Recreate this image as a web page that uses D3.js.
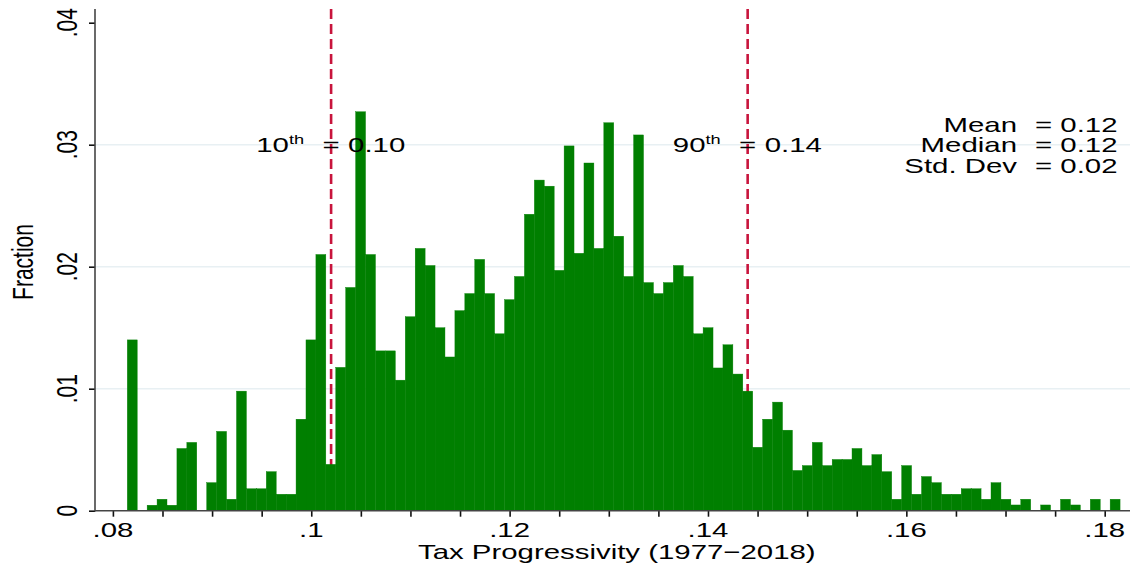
<!DOCTYPE html>
<html><head><meta charset="utf-8">
<script src="https://cdn.jsdelivr.net/npm/d3@7/dist/d3.min.js"></script>
<style>html,body{margin:0;padding:0;background:#fff}svg{display:block}text{font-family:"Liberation Sans",Arial,Helvetica,sans-serif;fill:#000}</style>
</head><body><svg id="c" width="1138" height="571"></svg>
<script>
// ---- data ----
const binStart = 0.08145;
const binWidth = 0.001001;
const fraction = [
  0.0140, 0, 0.00045, 0.00094, 0.00045, 0.0051, 0.0056, 0, 0.0023, 0.0065,
  0.00094, 0.0098, 0.0018, 0.0018, 0.0032, 0.00135, 0.00135, 0.0075, 0.0140, 0.0210,
  0.0038, 0.01175, 0.0183, 0.0327, 0.0210, 0.0131, 0.0131, 0.0107, 0.0159, 0.0215,
  0.0201, 0.0150, 0.0126, 0.0164, 0.0178, 0.0206, 0.0178, 0.0145, 0.0173, 0.0192,
  0.0243, 0.0271, 0.0266, 0.0197, 0.0299, 0.0211, 0.0285, 0.0215, 0.0318, 0.0225,
  0.0192, 0.0308, 0.0187, 0.0178, 0.0187, 0.0201, 0.0192, 0.0145, 0.0150, 0.0117,
  0.0136, 0.0112, 0.0098, 0.0052, 0.0075, 0.0089, 0.0066, 0.0033, 0.0037, 0.0056,
  0.0037, 0.0042, 0.0042, 0.0051, 0.0037, 0.0046, 0.0032, 0.00094, 0.0037, 0.00135,
  0.0028, 0.0023, 0.00135, 0.00135, 0.0018, 0.0018, 0.00094, 0.0023, 0.00094, 0.00047,
  0.00094, 0, 0.00047, 0, 0.00094, 0.00047, 0, 0.00094, 0, 0.00094
];
const xMajorTicks = [0.08, 0.10, 0.12, 0.14, 0.16, 0.18];
const xTickLabels = [".08", ".1", ".12", ".14", ".16", ".18"];
const xMinorStep = 0.005;
const yTicks = [0, 0.01, 0.02, 0.03, 0.04];
const yTickLabels = ["0", ".01", ".02", ".03", ".04"];
const yGridTicks = [0.01, 0.02, 0.03];
const percentiles = [
  {label: "10", sup: "th", value: 0.1020, text: "0.10"},
  {label: "90", sup: "th", value: 0.1440, text: "0.14"}
];
const stats = [["Mean", "0.12"], ["Median", "0.12"], ["Std. Dev", "0.02"]];
const xTitle = "Tax Progressivity (1977\u22122018)";
const yTitle = "Fraction";

// ---- layout ----
const SX = 1.4;           // horizontal stretch of the glyphs
const FS = 21;            // font size
const svg = d3.select("#c");
const x = d3.scaleLinear().domain([0.08, 0.18]).range([112.9, 1104.7]);
const y = d3.scaleLinear().domain([0, 0.04]).range([510.7, 22.7]);
const plotL = 95, plotR = 1130, plotT = 9, plotB = y(0);

function stext(g, px, py, str, anchor, size) {
  return g.append("text")
    .attr("transform", `translate(${px},${py}) scale(${SX},1)`)
    .attr("text-anchor", anchor || "start")
    .style("font-size", (size || FS) + "px")
    .text(str);
}
function vtext(g, px, py, str, size) {
  return g.append("text")
    .attr("transform", `translate(${px},${py}) scale(${SX},1) rotate(-90)`)
    .attr("text-anchor", "middle")
    .style("font-size", (size || FS) + "px")
    .text(str);
}

svg.append("rect").attr("width", 1138).attr("height", 571).attr("fill", "#fff");

// gridlines
svg.append("g").selectAll("line").data(yGridTicks).join("line")
  .attr("x1", plotL).attr("x2", plotR)
  .attr("y1", d => y(d)).attr("y2", d => y(d))
  .attr("stroke", "#e8f0f3").attr("stroke-width", 1.6);

// percentile lines (behind bars)
svg.append("g").selectAll("line").data(percentiles).join("line")
  .attr("x1", d => x(d.value)).attr("x2", d => x(d.value))
  .attr("y1", plotT).attr("y2", plotB)
  .attr("stroke", "#c8143c").attr("stroke-width", 2.6)
  .attr("stroke-dasharray", "10,5");

// bars
svg.append("g").selectAll("rect").data(fraction.map((v, i) => ({v, i})).filter(d => d.v > 0)).join("rect")
  .attr("x", d => x(binStart + d.i * binWidth))
  .attr("width", d => x(binStart + (d.i + 1) * binWidth) - x(binStart + d.i * binWidth))
  .attr("y", d => y(d.v))
  .attr("height", d => y(0) - y(d.v))
  .attr("fill", "#007f00").attr("stroke", "#007f00").attr("stroke-width", 0.4);

// axes
const minorTicks = d3.range(0, 21).map(i => 0.08 + i * xMinorStep);
const xAxis = d3.axisBottom(x).tickValues(minorTicks).tickSize(6).tickFormat("");
const gx = svg.append("g").attr("transform", `translate(0,${plotB})`).call(xAxis);
gx.select(".domain").remove();
gx.selectAll(".tick line").attr("stroke", "#111").attr("stroke-width", 1.6);
svg.append("line").attr("x1", plotL).attr("x2", plotR).attr("y1", plotB).attr("y2", plotB)
  .attr("stroke", "#444").attr("stroke-width", 1.6);

const yAxis = d3.axisLeft(y).tickValues(yTicks).tickSize(6).tickFormat("");
const gy = svg.append("g").attr("transform", `translate(${plotL},0)`).call(yAxis);
gy.select(".domain").remove();
gy.selectAll(".tick line").attr("stroke", "#111").attr("stroke-width", 1.6);
svg.append("line").attr("x1", plotL).attr("x2", plotL).attr("y1", plotT).attr("y2", plotB + 0.8)
  .attr("stroke", "#444").attr("stroke-width", 1.6);

// tick labels
const labels = svg.append("g");
xMajorTicks.forEach((t, i) => stext(labels, x(t), 537, xTickLabels[i], "middle"));
yTicks.forEach((t, i) => vtext(labels, 77, y(t), yTickLabels[i]));

// axis titles
stext(labels, (x(0.08) + x(0.18)) / 2 + 8, 559, xTitle, "middle");
vtext(labels, 33, 262, yTitle);

// percentile annotations
const ann = svg.append("g");
percentiles.forEach(p => {
  const lx = x(p.value);
  const t = ann.append("text")
    .attr("transform", `translate(${lx - 27},152) scale(${SX},1)`)
    .attr("text-anchor", "end").style("font-size", FS + "px");
  t.append("tspan").text(p.label);
  t.append("tspan").attr("dy", -8).style("font-size", "13px").text(p.sup);
  stext(ann, lx, 152, "=", "middle");
  stext(ann, lx + 17, 152, p.text, "start");
});

// summary statistics
stats.forEach((s, i) => {
  const by = 131.5 + i * 20.5;
  stext(ann, 1017, by, s[0], "end");
  stext(ann, 1035, by, "= " + s[1], "start");
});
</script></body></html>
